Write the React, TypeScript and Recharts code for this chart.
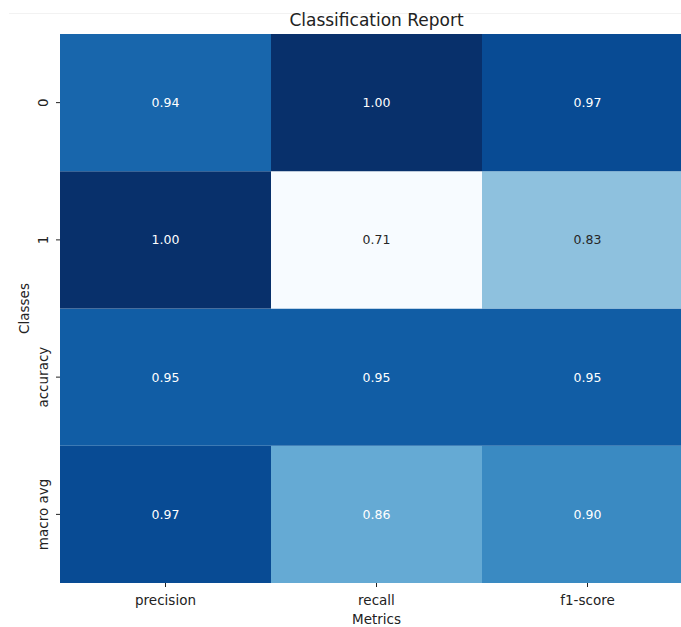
import React from "react";
import { BarChart, Bar, XAxis, YAxis, Cell, LabelList, Label } from "recharts";

const classes = ["0", "1", "accuracy", "macro avg"];
const metrics = ["precision", "recall", "f1-score"];

// scores per class, in metric order
const class0Scores = [0.94, 1.0, 0.97];
const class1Scores = [1.0, 0.71, 0.83];
const accuracyScores = [0.95, 0.95, 0.95];
const macroAvgScores = [0.97, 0.86, 0.9];

const scoreRows = [class0Scores, class1Scores, accuracyScores, macroAvgScores];

const FONT = "'DejaVu Sans', 'Liberation Sans', sans-serif";
const TEXT = "#222222";

// matplotlib "Blues" colormap stops
const BLUES = [
  "#f7fbff",
  "#deebf7",
  "#c6dbef",
  "#9ecae1",
  "#6baed6",
  "#4292c6",
  "#2171b5",
  "#08519c",
  "#08306b",
];

const hexToRgb = (h: string) => [
  parseInt(h.slice(1, 3), 16),
  parseInt(h.slice(3, 5), 16),
  parseInt(h.slice(5, 7), 16),
];

const bluesRgb = (t: number) => {
  const c = Math.min(1, Math.max(0, t)) * (BLUES.length - 1);
  const i = Math.min(BLUES.length - 2, Math.floor(c));
  const f = c - i;
  const a = hexToRgb(BLUES[i]);
  const b = hexToRgb(BLUES[i + 1]);
  return a.map((v, k) => Math.round(v + (b[k] - v) * f));
};

const allScores = scoreRows.flat();
const vmin = Math.min(...allScores);
const vmax = Math.max(...allScores);

const cellRgb = (v: number) => bluesRgb((v - vmin) / (vmax - vmin));
const rgbStr = (c: number[]) => `rgb(${c[0]}, ${c[1]}, ${c[2]})`;

// same rule seaborn uses to pick annotation colour
const annotColor = (v: number) => {
  const lin = cellRgb(v).map((x) => {
    const s = x / 255;
    return s <= 0.03928 ? s / 12.92 : Math.pow((s + 0.055) / 1.055, 2.4);
  });
  const lum = 0.2126 * lin[0] + 0.7152 * lin[1] + 0.0722 * lin[2];
  return lum > 0.408 ? "#262626" : "#ffffff";
};

// one entry per metric column; each class row is a unit-height stacked segment
const data = metrics.map((metric, j) => {
  const row: Record<string, string | number> = { metric };
  classes.forEach((_, i) => {
    row[`cell${i}`] = 1;
    row[`score${i}`] = scoreRows[i][j];
  });
  return row;
});

// stacking goes bottom-up, so the last class is stacked first
const stackOrder = [3, 2, 1, 0];

const Annotation = (props: any) => {
  const { x, y, width, height, value } = props;
  return (
    <text
      x={x + width / 2}
      y={y + height / 2}
      textAnchor="middle"
      dominantBaseline="central"
      fontFamily={FONT}
      fontSize={12.5}
      fill={annotColor(value)}
    >
      {Number(value).toFixed(2)}
    </text>
  );
};

// rotated class names, baseline kept at a fixed x left of the tick marks
const ClassTick = (props: any) => {
  const { y, payload } = props;
  const x = 48;
  const label = classes[classes.length - 1 - Math.floor(payload.value)];
  return (
    <text
      x={x}
      y={y}
      transform={`rotate(-90 ${x} ${y})`}
      textAnchor="middle"
      fontFamily={FONT}
      fontSize={13.5}
      fill={TEXT}
    >
      {label}
    </text>
  );
};

export default function App() {
  return (
    <div
      style={{
        position: "fixed",
        left: 0,
        top: 0,
        width: 681,
        height: 627,
        overflow: "hidden",
        background: "#ffffff",
      }}
    >
      <div
        style={{
          position: "absolute",
          left: 9,
          right: 0,
          top: 13,
          height: 1,
          background: "#f2f2f2",
        }}
      />
      <div
        style={{
          position: "absolute",
          left: 60,
          width: 633,
          top: 12,
          textAlign: "center",
          fontFamily: FONT,
          fontSize: 17,
          lineHeight: "17px",
          color: TEXT,
        }}
      >
        Classification Report
      </div>
      <BarChart
        width={700}
        height={627}
        data={data}
        margin={{ top: 34, right: 7, bottom: 0, left: 0 }}
        barCategoryGap={0}
        barGap={0}
      >
        <XAxis
          dataKey="metric"
          axisLine={false}
          tickLine={{ stroke: TEXT }}
          tickSize={4}
          tickMargin={8}
          height={44}
          interval={0}
          tick={{ fill: TEXT, fontSize: 13.5, fontFamily: FONT }}
        >
          <Label
            content={({ viewBox }: any) => (
              <text
                x={viewBox.x + viewBox.width / 2}
                y={viewBox.y + 41}
                textAnchor="middle"
                fontFamily={FONT}
                fontSize={13.5}
                fill={TEXT}
              >
                Metrics
              </text>
            )}
          />
        </XAxis>
        <YAxis
          type="number"
          domain={[0, classes.length]}
          ticks={[0.5, 1.5, 2.5, 3.5]}
          axisLine={false}
          tickLine={{ stroke: TEXT }}
          tickSize={4}
          tickMargin={8}
          width={60}
          interval={0}
          tick={<ClassTick />}
        >
          <Label
            content={({ viewBox }: any) => {
              const cx = viewBox.x + 29;
              const cy = viewBox.y + viewBox.height / 2;
              return (
                <text
                  x={cx}
                  y={cy}
                  transform={`rotate(-90 ${cx} ${cy})`}
                  textAnchor="middle"
                  fontFamily={FONT}
                  fontSize={13.5}
                  fill={TEXT}
                >
                  Classes
                </text>
              );
            }}
          />
        </YAxis>
        {stackOrder.map((i) => (
          <Bar
            key={i}
            dataKey={`cell${i}`}
            stackId="grid"
            isAnimationActive={false}
          >
            {data.map((d, j) => (
              <Cell key={j} fill={rgbStr(cellRgb(d[`score${i}`] as number))} />
            ))}
            <LabelList dataKey={`score${i}`} content={<Annotation />} />
          </Bar>
        ))}
      </BarChart>
    </div>
  );
}
